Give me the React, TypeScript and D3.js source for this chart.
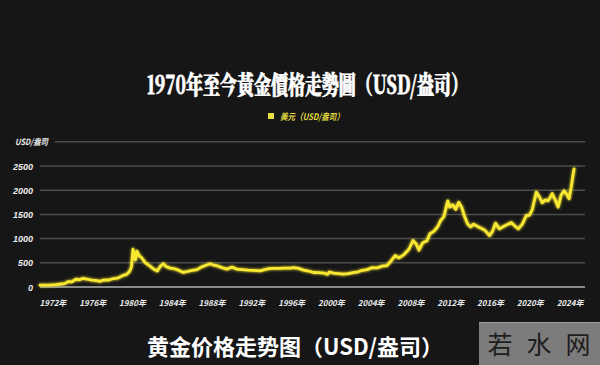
import React from "react";
import * as d3 from "d3";

const years: number[] = [
  1970.7, 1971.2, 1971.8, 1972.3, 1972.8, 1973.2, 1973.5, 1973.9, 1974.3, 1974.7, 1975.0, 1975.4, 1975.9,
  1976.4, 1976.7, 1977.1, 1977.6, 1978.1, 1978.6, 1979.0, 1979.4, 1979.7, 1979.9, 1980.05, 1980.15,
  1980.3, 1980.45, 1980.7, 1980.9, 1981.3, 1981.7, 1982.2, 1982.5, 1982.8, 1983.1, 1983.4, 1983.8,
  1984.2, 1984.6, 1985.1, 1985.5, 1986.0, 1986.5, 1986.9, 1987.4, 1987.8, 1988.2, 1988.6, 1989.0,
  1989.5, 1990.0, 1990.5, 1991.0, 1991.6, 1992.2, 1992.8, 1993.3, 1993.7, 1994.2, 1994.8, 1995.3,
  1995.9, 1996.2, 1996.7, 1997.2, 1997.7, 1998.2, 1998.7, 1999.3, 1999.6, 1999.8, 2000.2, 2000.7,
  2001.2, 2001.7, 2002.2, 2002.7, 2003.1, 2003.6, 2004.1, 2004.6, 2005.1, 2005.6, 2006.0, 2006.4,
  2006.8, 2007.3, 2007.8, 2008.2, 2008.5, 2008.8, 2009.2, 2009.6, 2009.9, 2010.3, 2010.7, 2011.0,
  2011.3, 2011.7, 2011.9, 2012.2, 2012.5, 2012.8, 2013.1, 2013.4, 2013.7, 2014.0, 2014.3, 2014.7,
  2015.0, 2015.4, 2015.9, 2016.2, 2016.5, 2016.9, 2017.3, 2017.7, 2018.1, 2018.5, 2018.8, 2019.2,
  2019.6, 2019.9, 2020.2, 2020.6, 2020.9, 2021.2, 2021.5, 2021.8, 2022.2, 2022.5, 2022.8, 2023.1,
  2023.4, 2023.7, 2023.9, 2024.1, 2024.25, 2024.4,
];

const prices: number[] = [
  38, 40, 44, 50, 62, 70, 110, 105, 160, 150, 180, 165, 140,
  130, 118, 140, 145, 175, 190, 235, 260, 320, 420, 780, 690,
  560, 740, 640, 610, 500, 440, 360, 330, 430, 480, 420, 390,
  380, 350, 300, 320, 345, 360, 410, 450, 480, 450, 430, 400,
  370, 410, 370, 360, 350, 345, 335, 360, 380, 385, 385, 390,
  390, 400, 385, 350, 330, 300, 295, 285, 260, 310, 285, 275,
  265, 275, 295, 315, 345, 360, 400, 395, 430, 440, 540, 650,
  600, 670, 780, 960, 900, 760, 920, 950, 1100, 1150, 1250, 1380,
  1450, 1780, 1650, 1700, 1600, 1750, 1650, 1450, 1300, 1240, 1300, 1250,
  1220, 1180, 1060, 1150, 1320, 1200, 1250, 1290, 1330, 1250, 1200, 1300,
  1480, 1480, 1600, 1960, 1870, 1740, 1800, 1780, 1930, 1800, 1650, 1900,
  1990, 1900, 1820, 2050, 2250, 2440,
];

const yTicks: number[] = [0, 500, 1000, 1500, 2000, 2500];
const xTickYears: number[] = [1972, 1976, 1980, 1984, 1988, 1992, 1996, 2000, 2004, 2008, 2012, 2016, 2020, 2024];

const W = 600;
const H = 365;

export default function App() {
  const x = d3.scaleLinear().domain([1970.7, 2025.5]).range([40, 585]);
  const y = d3.scaleLinear().domain([0, 2500]).range([287, 166]);
  const data = years.map((yr, i) => [yr, prices[i]] as [number, number]);
  const line = d3
    .line<[number, number]>()
    .x((d) => x(d[0]))
    .y((d) => y(d[1]))
    .curve(d3.curveLinear);
  const path = line(data) || "";
  const cjk = "'Noto Sans CJK SC', 'Noto Sans', sans-serif";

  return (
    <svg
      width={W}
      height={H}
      viewBox={`0 0 ${W} ${H}`}
      style={{ position: "fixed", left: 0, top: 0, background: "#161616", display: "block" }}
    >
      <defs>
        <filter id="glow" x="-10%" y="-10%" width="120%" height="120%">
          <feGaussianBlur stdDeviation="1.8" result="b" />
          <feMerge>
            <feMergeNode in="b" />
            <feMergeNode in="SourceGraphic" />
          </feMerge>
        </filter>
      </defs>
      <rect x={0} y={0} width={W} height={H} fill="#161616" />

      {/* Title */}
      <g transform="translate(307.5,94) scale(0.85,1.25)">
        <text
          x={0}
          y={0}
          textAnchor="middle"
          fill="#ffffff"
          stroke="#ffffff"
          strokeWidth={0.6}
          fontSize={20}
          fontWeight={900}
          fontFamily="'Noto Serif CJK TC', 'Noto Sans CJK TC', serif"
        >
          1970年至今黃金價格走勢圖（USD/盎司）
        </text>
      </g>

      {/* Legend */}
      <rect x={268} y={113} width={6} height={6} fill="#e8e040" />
      <text
        x={280}
        y={120}
        fill="#e0d840"
        fontSize={9}
        fontStyle="italic"
        fontWeight={700}
        fontFamily={cjk}
        textLength={64}
        lengthAdjust="spacingAndGlyphs"
      >
        美元（USD/盎司）
      </text>

      {/* Grid lines */}
      {yTicks.slice(1).map((t) => (
        <line key={t} x1={40} x2={585} y1={y(t)} y2={y(t)} stroke="#4c4c4c" strokeWidth={1.5} />
      ))}
      <line x1={55} x2={585} y1={y(3000)} y2={y(3000)} stroke="#4c4c4c" strokeWidth={1.5} />
      <line x1={40} x2={585} y1={y(0)} y2={y(0)} stroke="#8a8a8a" strokeWidth={1.8} />

      {/* Y axis labels */}
      {yTicks.map((t) => (
        <text
          key={t}
          x={33}
          y={y(t) + 3.5}
          textAnchor="end"
          fill="#ececec"
          fontSize={9}
          fontStyle="italic"
          fontWeight={700}
          fontFamily="'Liberation Sans Narrow', 'Liberation Sans', sans-serif"
        >
          {t}
        </text>
      ))}
      <text
        x={15}
        y={y(3000) + 3.5}
        fill="#ececec"
        fontSize={8.5}
        fontStyle="italic"
        fontWeight={700}
        fontFamily={cjk}
        textLength={33}
        lengthAdjust="spacingAndGlyphs"
      >
        USD/盎司
      </text>

      {/* X axis labels */}
      {xTickYears.map((yr) => (
        <text
          key={yr}
          x={x(yr)}
          y={306}
          textAnchor="middle"
          fill="#ececec"
          fontSize={8}
          fontStyle="italic"
          fontWeight={700}
          fontFamily={cjk}
        >
          {yr}年
        </text>
      ))}

      {/* Price line */}
      <path
        d={path}
        fill="none"
        stroke="#f9e830"
        strokeWidth={2.8}
        strokeLinejoin="round"
        strokeLinecap="round"
        filter="url(#glow)"
      />

      {/* Bottom caption */}
      <text
        x={147}
        y={355}
        fill="#ffffff"
        fontSize={22}
        fontWeight={700}
        fontFamily={cjk}
        textLength={296}
        lengthAdjust="spacingAndGlyphs"
      >
        黄金价格走势图（USD/盎司）
      </text>

      {/* Watermark */}
      <rect x={479} y={322} width={121} height={43} fill="#7c7c7c" />
      <line x1={479} x2={600} y1={322.5} y2={322.5} stroke="#9a9a9a" strokeWidth={1} />
      {["若", "水", "网"].map((c, i) => (
        <text
          key={c}
          x={500 + i * 39}
          y={354}
          textAnchor="middle"
          fill="#1e1e1e"
          fontSize={25}
          fontFamily={cjk}
        >
          {c}
        </text>
      ))}
    </svg>
  );
}
